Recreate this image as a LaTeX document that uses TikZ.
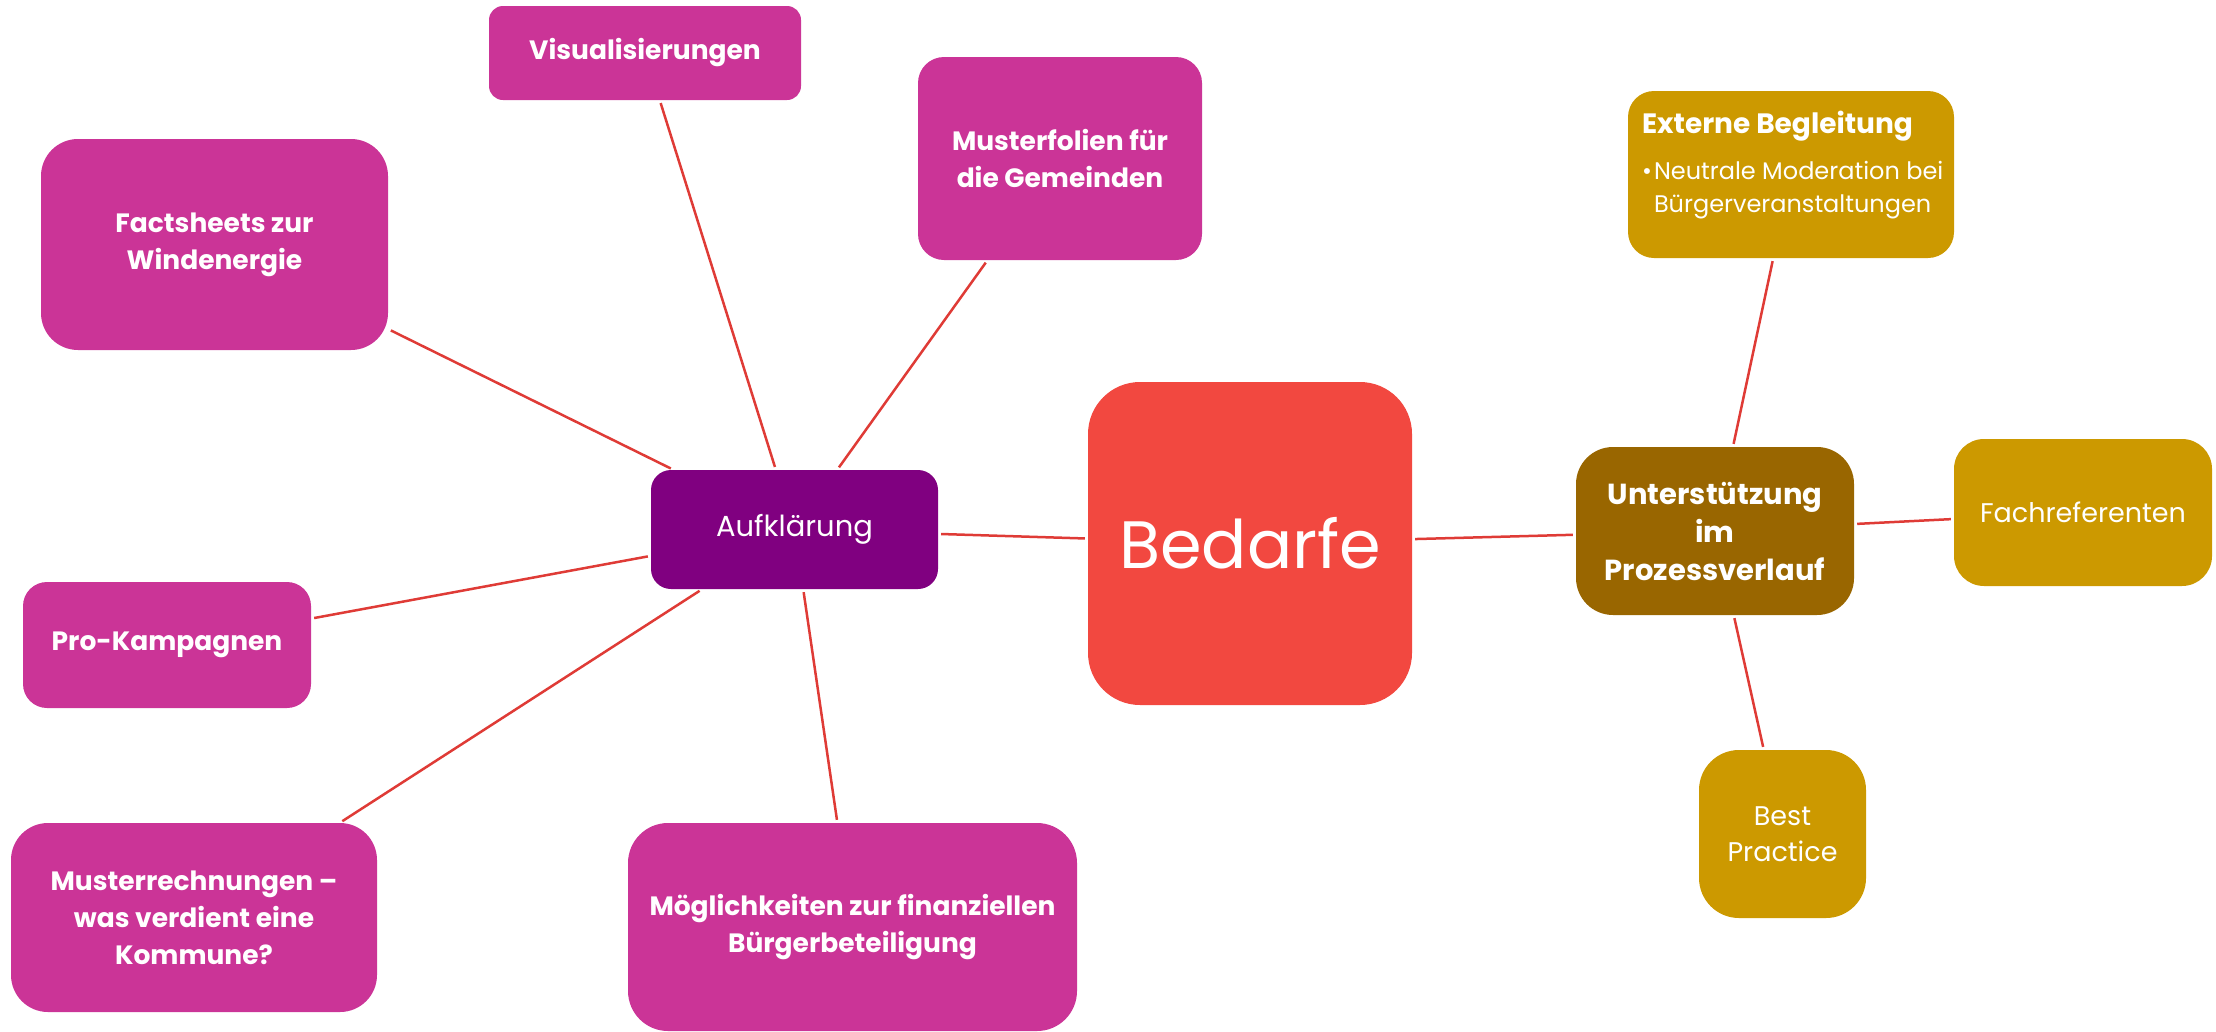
\documentclass[tikz,border=0pt]{standalone}
\usepackage{fontspec}
\setmainfont{Poppins}
\usepackage{xcolor}
\usetikzlibrary{positioning}
\definecolor{pink}{HTML}{CB3497}
\definecolor{violet}{HTML}{800080}
\definecolor{tomato}{HTML}{F24840}
\definecolor{bronze}{HTML}{996600}
\definecolor{gold}{HTML}{CC9900}
\definecolor{link}{HTML}{DF3B36}
\newcommand{\bsize}{\fontsize{26.5}{37}\selectfont\bfseries}
\newcommand{\rsize}{\fontsize{27}{36}\selectfont}

\begin{document}
\begin{tikzpicture}[x=1pt,y=-1pt,
  box/.style={fill=#1,text=white,inner sep=0pt,align=center},
  leaf/.style={box=pink,font=\bsize}]
\useasboundingbox (0,0) rectangle (2216,1031);
% center
\node[box=tomato,minimum width=324pt,minimum height=323pt,rounded corners=52pt,font=\fontsize{67}{80}\selectfont] (B) at (1250,543.5) {Bedarfe};
% left branch
\node[box=violet,minimum width=287pt,minimum height=119pt,rounded corners=20pt,font=\fontsize{29}{36}\selectfont] (A) at (794.5,529.5) {Aufkl\"arung};
\node[leaf,minimum width=312pt,minimum height=94pt,rounded corners=14pt] (A1) at (645,53) {Visualisierungen};
\node[leaf,minimum width=284pt,minimum height=203pt,rounded corners=26pt] (A2) at (1060,158.5) {Musterfolien f\"ur\\die Gemeinden};
\node[leaf,minimum width=347pt,minimum height=211pt,rounded corners=37pt] (A3) at (214.5,244.5) {Factsheets zur\\Windenergie};
\node[leaf,minimum width=288pt,minimum height=126pt,rounded corners=24pt] (A4) at (167,645) {Pro-Kampagnen};
\node[leaf,minimum width=366pt,minimum height=189pt,rounded corners=37pt] (A5) at (194,917.5) {Musterrechnungen --\\was verdient eine\\Kommune?};
\node[leaf,minimum width=449pt,minimum height=208pt,rounded corners=40pt] (A6) at (852.5,927) {M\"oglichkeiten zur finanziellen\\B\"urgerbeteiligung};
% right branch
\node[box=bronze,minimum width=278pt,minimum height=168pt,rounded corners=37pt,font=\fontsize{29}{38}\selectfont\bfseries] (U) at (1715,531) {Unterst\"utzung\\im\\Prozessverlauf};
\node[box=gold,minimum width=326pt,minimum height=167pt,rounded corners=26pt,align=left] (U1) at (1791,174.5) {%
  \begin{minipage}[t][126pt][t]{298pt}\raggedright
  {\fontsize{28}{33}\selectfont\bfseries Externe Begleitung\par}
  \vspace{13pt}
  {\fontsize{24}{33}\selectfont\hangindent=12pt\hangafter=1
  \noindent\makebox[12pt][l]{\textbullet}\mbox{Neutrale Moderation bei}\newline B\"urgerveranstaltungen\par}
  \end{minipage}};
\node[box=gold,minimum width=258pt,minimum height=147pt,rounded corners=30pt,font=\rsize] (U2) at (2083,512.5) {Fachreferenten};
\node[box=gold,minimum width=167pt,minimum height=168pt,rounded corners=40pt,font=\rsize] (U3) at (1782.5,834) {Best\\Practice};
\path[draw=link,line width=2.5pt,shorten <=3pt,shorten >=3pt]
(A) edge (B)
(B) edge (U)
(A) edge (A1)
(A) edge (A2)
(A) edge (A3)
(A) edge (A4)
(A) edge (A5)
(A) edge (A6)
(U) edge (U1)
(U) edge (U2)
(U) edge (U3);
\end{tikzpicture}
\end{document}
